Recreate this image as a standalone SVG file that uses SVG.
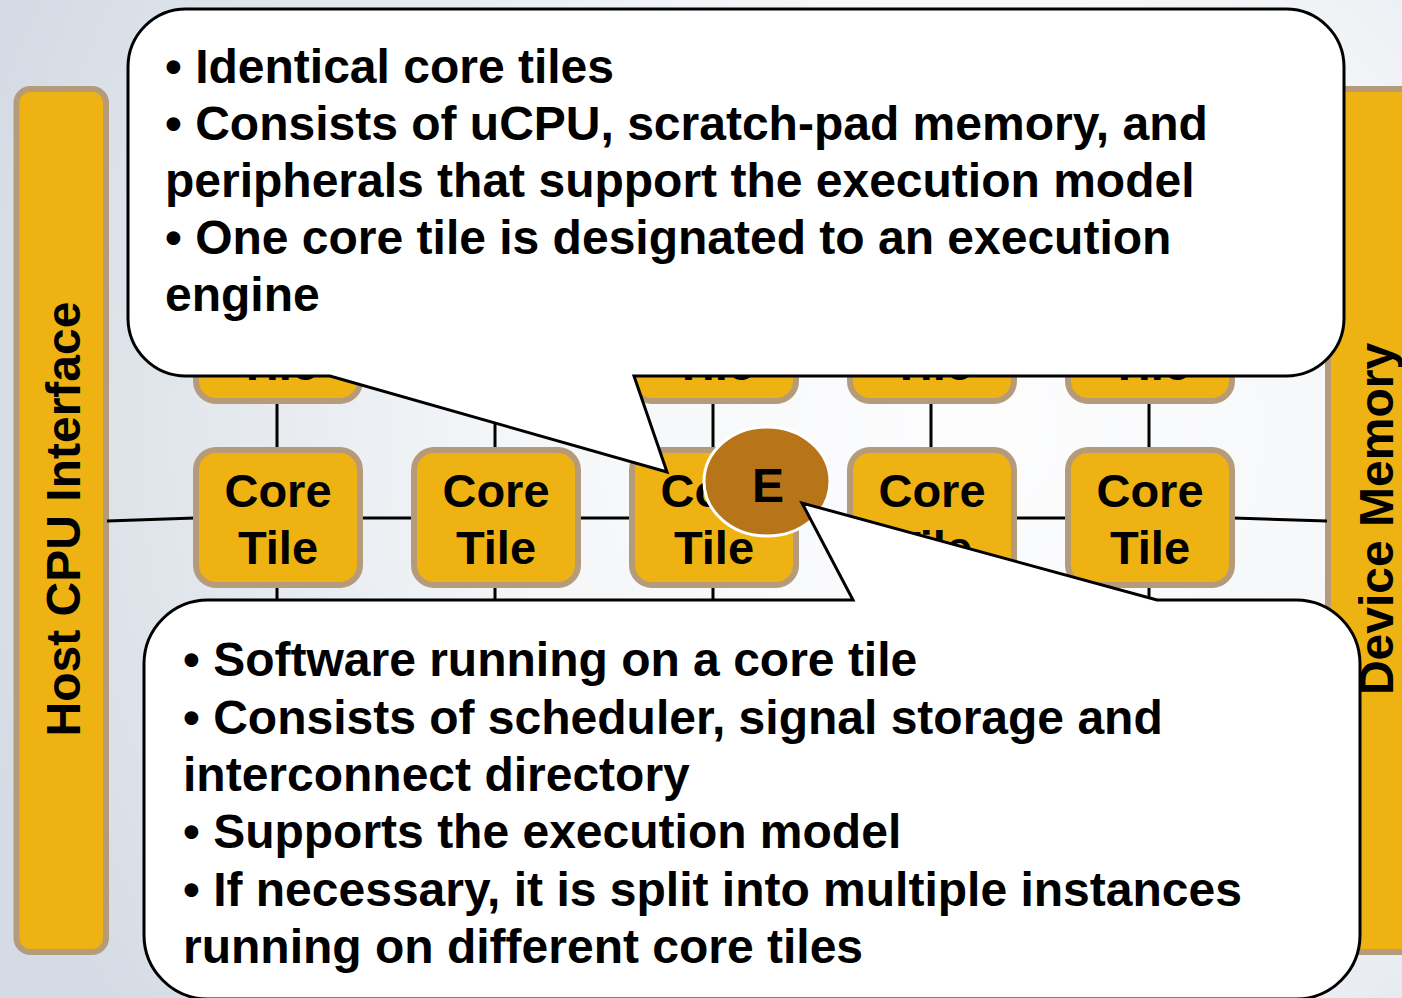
<svg xmlns="http://www.w3.org/2000/svg" width="1402" height="998" viewBox="0 0 1402 998">
<style>
.bar{fill:#eeb312;stroke:#b59b7a;stroke-width:6}
.tile{fill:#eeb312;stroke:#b59b7a;stroke-width:6}
.t{font-family:"Liberation Sans",Arial,Helvetica,sans-serif;font-weight:bold;fill:#000}
.tt{font-size:47px;text-anchor:middle}
.ct{font-size:48px}
.conn{stroke:#000;stroke-width:3;fill:none}
.callout{fill:#fff;stroke:#000;stroke-width:3;stroke-linejoin:miter}
</style>
<defs>
<radialGradient id="bg" gradientUnits="userSpaceOnUse" cx="980" cy="430" r="1050">
<stop offset="0" stop-color="#fdfdfe"/>
<stop offset="0.45" stop-color="#f4f6f8"/>
<stop offset="1" stop-color="#d4dbe4"/>
</radialGradient>
</defs>
<rect x="0" y="0" width="1402" height="998" fill="url(#bg)"/>

<g id="host-cpu-interface">
<rect class="bar" x="16.5" y="89" width="89.5" height="863" rx="14"/>
<text class="t" font-size="48" text-anchor="middle" transform="translate(80,519) rotate(-90)">Host CPU Interface</text>
</g>
<g id="device-memory">
<rect class="bar" x="1328" y="89" width="100" height="863" rx="14"/>
<text class="t" font-size="48" text-anchor="middle" transform="translate(1393,519) rotate(-90)">Device Memory</text>
</g>

<g id="connectors">
<path class="conn" d="M107,521 L195,518"/>
<path class="conn" d="M361,518 H413"/>
<path class="conn" d="M579,518 H631"/>
<path class="conn" d="M797,518 H849"/>
<path class="conn" d="M1015,518 H1067"/>
<path class="conn" d="M1233,518 L1327,521"/>
<path class="conn" d="M277,402 V450"/>
<path class="conn" d="M495,402 V450"/>
<path class="conn" d="M713,402 V450"/>
<path class="conn" d="M931,402 V450"/>
<path class="conn" d="M1149,402 V450"/>
<path class="conn" d="M277,585 V610"/>
<path class="conn" d="M495,585 V610"/>
<path class="conn" d="M713,585 V610"/>
<path class="conn" d="M931,585 V610"/>
<path class="conn" d="M1149,585 V610"/>
</g>

<g id="tile-r1c1"><rect class="tile" x="196" y="266" width="164" height="135" rx="20"/><text class="t tt" x="278" y="380">Tile</text></g>
<g id="tile-r1c2"><rect class="tile" x="414" y="266" width="164" height="135" rx="20"/><text class="t tt" x="496" y="380">Tile</text></g>
<g id="tile-r1c3"><rect class="tile" x="632" y="266" width="164" height="135" rx="20"/><text class="t tt" x="714" y="380">Tile</text></g>
<g id="tile-r1c4"><rect class="tile" x="850" y="266" width="164" height="135" rx="20"/><text class="t tt" x="932" y="380">Tile</text></g>
<g id="tile-r1c5"><rect class="tile" x="1068" y="266" width="164" height="135" rx="20"/><text class="t tt" x="1150" y="380">Tile</text></g>

<g id="tile-r2c1"><rect class="tile" x="196" y="450" width="164" height="135" rx="20"/><text class="t tt" x="278" y="507">Core</text><text class="t tt" x="278" y="564">Tile</text></g>
<g id="tile-r2c2"><rect class="tile" x="414" y="450" width="164" height="135" rx="20"/><text class="t tt" x="496" y="507">Core</text><text class="t tt" x="496" y="564">Tile</text></g>
<g id="tile-r2c3"><rect class="tile" x="632" y="450" width="164" height="135" rx="20"/><text class="t tt" x="714" y="507">Core</text><text class="t tt" x="714" y="564">Tile</text></g>
<g id="tile-r2c4"><rect class="tile" x="850" y="450" width="164" height="135" rx="20"/><text class="t tt" x="932" y="507">Core</text><text class="t tt" x="932" y="564">Tile</text></g>
<g id="tile-r2c5"><rect class="tile" x="1068" y="450" width="164" height="135" rx="20"/><text class="t tt" x="1150" y="507">Core</text><text class="t tt" x="1150" y="564">Tile</text></g>

<g id="engine">
<ellipse cx="767" cy="481.5" rx="63" ry="54.5" fill="#b87418" stroke="#fff" stroke-width="3"/>
<text class="t" font-size="48" text-anchor="middle" x="768" y="502">E</text>
</g>

<g id="callout-top">
<path class="callout" d="M186,9 H1286 A58,58 0 0 1 1344,67 V318 A58,58 0 0 1 1286,376 H634 L667,472 L330,376 H186 A58,58 0 0 1 128,318 V67 A58,58 0 0 1 186,9 Z"/>
<text class="t ct" x="165" y="83">• Identical core tiles</text>
<text class="t ct" x="165" y="140">• Consists of uCPU, scratch-pad memory, and</text>
<text class="t ct" x="165" y="197">peripherals that support the execution model</text>
<text class="t ct" x="165" y="254">• One core tile is designated to an execution</text>
<text class="t ct" x="165" y="311">engine</text>
</g>

<g id="callout-bottom">
<path class="callout" d="M208,600 H853 L802,503 L1157,600 H1296 A64,64 0 0 1 1360,664 V935 A64,64 0 0 1 1296,999 H208 A64,64 0 0 1 144,935 V664 A64,64 0 0 1 208,600 Z"/>
<text class="t ct" x="183" y="676">• Software running on a core tile</text>
<text class="t ct" x="183" y="734">• Consists of scheduler, signal storage and</text>
<text class="t ct" x="183" y="791">interconnect directory</text>
<text class="t ct" x="183" y="848">• Supports the execution model</text>
<text class="t ct" x="183" y="906">• If necessary, it is split into multiple instances</text>
<text class="t ct" x="183" y="963">running on different core tiles</text>
</g>
</svg>
